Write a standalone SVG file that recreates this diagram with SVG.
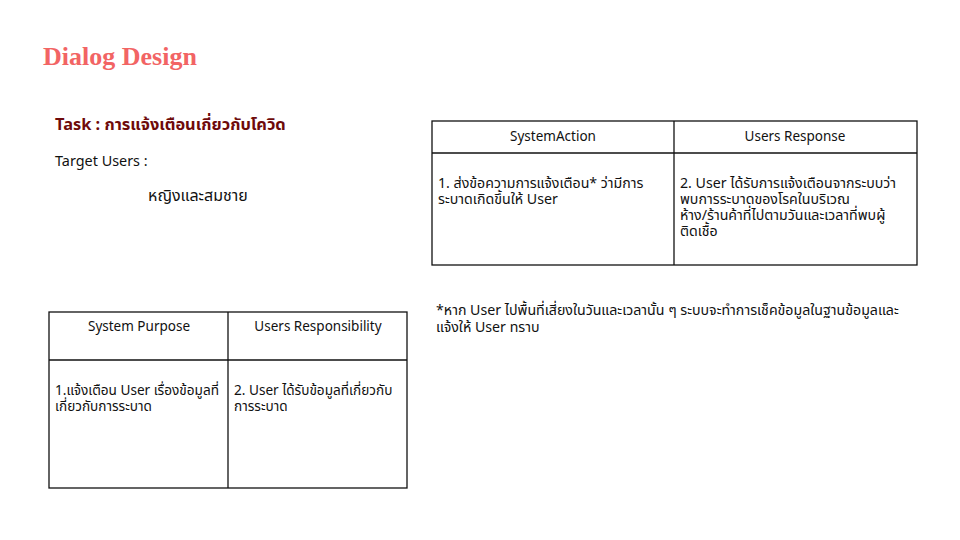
<svg xmlns="http://www.w3.org/2000/svg" width="960" height="540" viewBox="0 0 960 540">
<style>
.t{font-family:"Noto Sans","Noto Sans Thai","Liberation Sans",sans-serif;font-size:14.2px;fill:#111}
.hd{font-size:13.5px;text-anchor:middle}
.sm{font-size:13.6px}
.ln{stroke:#111;stroke-width:1.3;fill:none}
</style>
<rect width="960" height="540" fill="#fff"/>
<text x="43" y="65" style="font-family:'Liberation Serif',serif;font-weight:bold;font-size:26px;fill:#F26464">Dialog Design</text>
<g id="task">
<text x="55" y="130" class="t" style="font-size:16.4px;font-weight:bold;fill:#6E0A0A">Task : การแจ้งเตือนเกี่ยวกับโควิด</text>
<text x="55" y="166" class="t" style="font-size:14.4px">Target Users :</text>
<text x="148" y="201" class="t" style="font-size:16px">หญิงและสมชาย</text>
</g>
<g id="table1">
<rect x="432" y="121" width="485" height="144" class="ln"/>
<line x1="674" y1="121" x2="674" y2="265" class="ln"/>
<line x1="432" y1="153" x2="917" y2="153" class="ln"/>
<text x="553" y="141" class="t hd">SystemAction</text>
<text x="795" y="141" class="t hd">Users Response</text>
<text class="t"><tspan x="438" y="188">1. ส่งข้อความการแจ้งเตือน* ว่ามีการ</tspan><tspan x="438" y="204">ระบาดเกิดขึ้นให้ User</tspan></text>
<text class="t"><tspan x="680" y="188">2. User ได้รับการแจ้งเตือนจากระบบว่า</tspan><tspan x="680" y="204">พบการระบาดของโรคในบริเวณ</tspan><tspan x="680" y="220">ห้าง/ร้านค้าที่ไปตามวันและเวลาที่พบผู้</tspan><tspan x="680" y="236">ติดเชื้อ</tspan></text>
</g>
<g id="note">
<text class="t"><tspan x="436" y="315">*หาก User ไปพื้นที่เสี่ยงในวันและเวลานั้น ๆ ระบบจะทำการเช็คข้อมูลในฐานข้อมูลและ</tspan><tspan x="436" y="332">แจ้งให้ User ทราบ</tspan></text>
</g>
<g id="table2">
<rect x="49" y="312" width="358" height="176" class="ln"/>
<line x1="228" y1="312" x2="228" y2="488" class="ln"/>
<line x1="49" y1="360" x2="407" y2="360" class="ln"/>
<text x="139" y="331" class="t hd">System Purpose</text>
<text x="318" y="331" class="t hd">Users Responsibility</text>
<text class="t sm"><tspan x="55" y="395">1.แจ้งเตือน User เรื่องข้อมูลที่</tspan><tspan x="55" y="411">เกี่ยวกับการระบาด</tspan></text>
<text class="t sm"><tspan x="234" y="395">2. User ได้รับข้อมูลที่เกี่ยวกับ</tspan><tspan x="234" y="411">การระบาด</tspan></text>
</g>
</svg>
